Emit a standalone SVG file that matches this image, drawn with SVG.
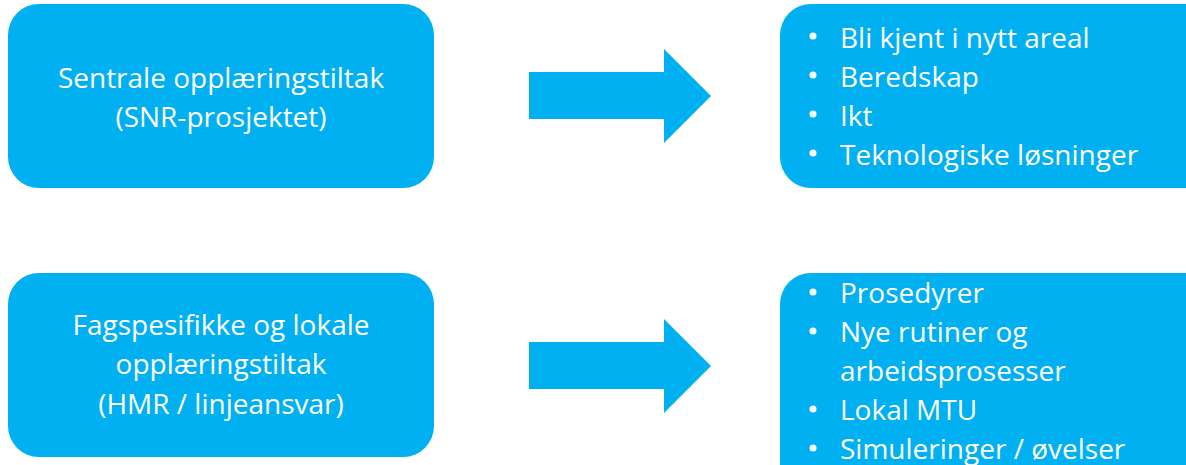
<svg xmlns="http://www.w3.org/2000/svg" width="1186" height="465" viewBox="0 0 1186 465">
<style>
.box{fill:#00B0F0;}
.arrow{fill:#00B0F0;}
.t{font-family:"Open Sans","Liberation Sans",sans-serif;font-size:28px;fill:#FFFFFF;}
.c{text-anchor:middle;}
.dot{fill:#FFFFFF;}
</style>
<rect width="1186" height="465" fill="#FFFFFF"/>
<g id="node-sentrale">
<rect class="box" x="8" y="4" width="426" height="184" rx="31" ry="31"/>
<text class="t c" x="221" y="88">Sentrale opplæringstiltak</text>
<text class="t c" x="221" y="127">(SNR-prosjektet)</text>
</g>
<g id="node-fagspesifikke">
<rect class="box" x="8" y="273" width="426" height="184" rx="31" ry="31"/>
<text class="t c" x="221" y="335">Fagspesifikke og lokale</text>
<text class="t c" x="221" y="374">opplæringstiltak</text>
<text class="t c" x="221" y="414">(HMR / linjeansvar)</text>
</g>
<g id="node-list1">
<rect class="box" x="780" y="4" width="440" height="184" rx="31" ry="31"/>
<circle class="dot" cx="813" cy="36" r="3.5"/>
<circle class="dot" cx="813" cy="75" r="3.5"/>
<circle class="dot" cx="813" cy="114" r="3.5"/>
<circle class="dot" cx="813" cy="153" r="3.5"/>
<text class="t" x="840" y="48">Bli kjent i nytt areal</text>
<text class="t" x="840" y="87">Beredskap</text>
<text class="t" x="840" y="126">Ikt</text>
<text class="t" x="840" y="165">Teknologiske løsninger</text>
</g>
<g id="node-list2">
<rect class="box" x="780" y="273" width="440" height="240" rx="31" ry="31"/>
<circle class="dot" cx="813" cy="292" r="3.5"/>
<circle class="dot" cx="813" cy="331" r="3.5"/>
<circle class="dot" cx="813" cy="409" r="3.5"/>
<circle class="dot" cx="813" cy="448" r="3.5"/>
<text class="t" x="840" y="303">Prosedyrer</text>
<text class="t" x="840" y="342">Nye rutiner og</text>
<text class="t" x="840" y="381">arbeidsprosesser</text>
<text class="t" x="840" y="420">Lokal MTU</text>
<text class="t" x="840" y="459">Simuleringer / øvelser</text>
</g>
<g id="connectors">
<polygon class="arrow" points="529,72 664,72 664,49 711,96 664,143 664,119 529,119"/>
<polygon class="arrow" points="529,342 664,342 664,319 711,366 664,413 664,389 529,389"/>
</g>
</svg>
